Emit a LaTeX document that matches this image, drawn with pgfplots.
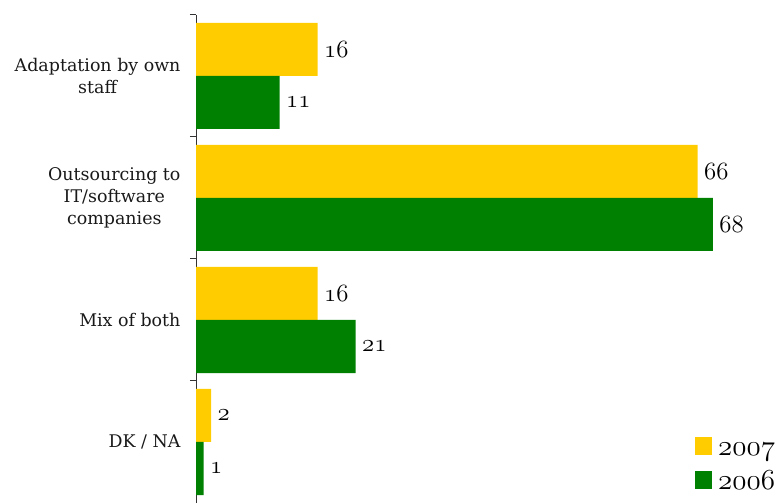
\documentclass[border=0pt]{standalone}
\usepackage{fontspec}
\setmainfont{DejaVu Serif}
\usepackage{graphicx}
\usepackage{pgfplots}
\pgfplotsset{compat=1.18}
\definecolor{cy}{HTML}{FFCC00}
\definecolor{cg}{HTML}{008000}
\newcommand\osn[1]{{\usefont{OML}{lmm}{m}{it}#1}}
\newcommand\osl[1]{\scalebox{1.17}{\fontsize{24.88}{24.88}\selectfont\usefont{OML}{lmm}{m}{it}#1}}
\begin{document}
\begin{tikzpicture}
\path[use as bounding box] (0,0) rectangle (779bp,503bp);
\begin{axis}[
  at={(196bp,0bp)}, anchor=south west,
  scale only axis, width=583bp, height=488bp,
  xmin=0, xmax=76.7, ymin=-0.5, ymax=3.5,
  axis x line=none, axis y line*=left,
  axis line style={black!80, line width=1bp},
  xbar, bar width=53bp,
  ytick={0,1,2,3},
  yticklabels={{DK / NA},{Mix of both},{Outsourcing to\\IT/software\\companies},{Adaptation by own\\staff}},
  major tick length=0pt,
  minor ytick={-0.5,0.5,1.5,2.5,3.5},
  minor tick length=6bp, tick align=outside,
  minor tick style={black!80, line width=1bp},
  yticklabel style={align=center, font=\fontsize{17.5}{22}\selectfont, text=black!90, xshift=-12bp},
  point meta=x,
  nodes near coords={\osn{\pgfmathprintnumber[assume math mode=true]{\pgfplotspointmeta}}},
  nodes near coords style={font=\fontsize{24.88}{25}\selectfont, anchor=west, xshift=3bp},
  legend style={at={(1,0)}, anchor=south east, xshift=-4bp, yshift=-0.5bp, draw=none, fill=none,
    font=\fontsize{24.88}{25}\selectfont, row sep=0pt, inner sep=0pt, outer sep=0pt, column sep=6bp,
    nodes={inner sep=0pt, text height=20bp, text depth=14bp}},
  legend image code/.code={\fill[#1] (0bp,-2bp) rectangle (17bp,15bp);},
  legend cell align=left,
]
\addplot[draw=none, fill=cy, bar shift=26.5bp] coordinates {(16,3) (66,2) (16,1) (2,0)};
\addplot[draw=none, fill=cg, bar shift=-26.5bp] coordinates {(11,3) (68,2) (21,1) (1,0)};
\legend{\osl{2007},\osl{2006}}
\end{axis}
\end{tikzpicture}
\end{document}
